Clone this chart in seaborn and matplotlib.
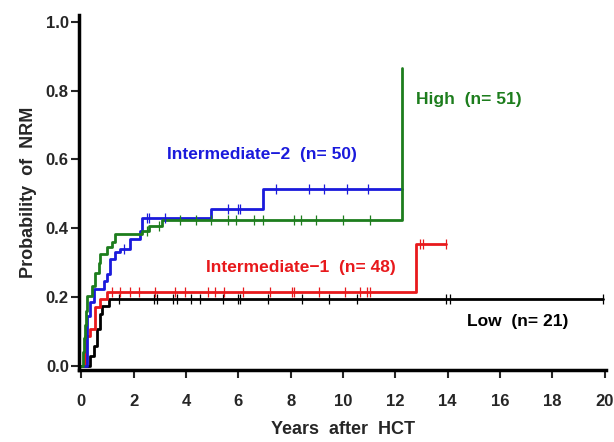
import numpy as np
import pandas as pd
import matplotlib
matplotlib.use("Agg")
import matplotlib.pyplot as plt
import seaborn as sns

# ---- data ----
low_t = [0, 0.35, 0.48, 0.6, 0.73, 0.8, 1.05, 19.95]
low_y = [0, 0.03, 0.059, 0.107, 0.15, 0.175, 0.194, 0.194]
low_cens = [1.43, 2.76, 2.88, 3.5, 3.64, 4.21, 4.53, 5.41, 5.98, 6.08, 7.12,
            8.45, 9.46, 10.53, 13.94, 14.07, 19.95]

int1_t = [0, 0.16, 0.35, 0.54, 0.73, 0.99, 12.8, 13.94]
int1_y = [0, 0.088, 0.107, 0.17, 0.194, 0.215, 0.355, 0.355]
int1_cens = [1.18, 1.49, 1.87, 2.19, 2.82, 3.58, 3.96, 4.84, 5.09, 5.47, 6.17,
             7.22, 8.07, 8.13, 9.08, 10.09, 10.66, 10.91, 11.04, 12.93, 13.06, 13.94]

int2_t = [0, 0.23, 0.35, 0.48, 0.86, 0.99, 1.11, 1.3, 1.49, 1.87, 2.25, 2.31,
          4.94, 6.93, 12.24]
int2_y = [0, 0.146, 0.185, 0.223, 0.247, 0.267, 0.31, 0.33, 0.34, 0.368, 0.392,
          0.43, 0.455, 0.515, 0.515]
int2_cens = [1.62, 2.5, 2.6, 3.2, 5.6, 5.98, 6.07, 7.43, 8.7, 9.27, 10.15, 10.97]

high_t = [0, 0.05, 0.1, 0.13, 0.17, 0.23, 0.42, 0.54, 0.67, 0.73, 0.99, 1.18,
          1.3, 2.31, 2.57, 3.07, 12.24, 12.24]
high_y = [0, 0.04, 0.08, 0.12, 0.16, 0.204, 0.233, 0.27, 0.3, 0.325, 0.345,
          0.36, 0.383, 0.392, 0.408, 0.425, 0.425, 0.866]
high_cens = [2.5, 2.95, 3.77, 4.4, 4.97, 5.6, 5.9, 6.6, 6.93, 8.13, 8.38, 8.95,
             10.0, 11.04]

groups = ["Low", "Intermediate-1", "Intermediate-2", "High"]
colors = {"Low": "#000000", "Intermediate-1": "#e8191c",
          "Intermediate-2": "#1a1adc", "High": "#1d7d1d"}
labels = {"Low": "Low  (n= 21)", "Intermediate-1": "Intermediate\u22121  (n= 48)",
          "Intermediate-2": "Intermediate\u22122  (n= 50)", "High": "High  (n= 51)"}
label_pos = {"Low": (14.75, 0.128), "Intermediate-1": (4.78, 0.287),
             "Intermediate-2": (3.26, 0.614), "High": (12.78, 0.774)}

curves = {"Low": (low_t, low_y, low_cens),
          "Intermediate-1": (int1_t, int1_y, int1_cens),
          "Intermediate-2": (int2_t, int2_y, int2_cens),
          "High": (high_t, high_y, high_cens)}

rows, crows = [], []
for g in groups:
    t, y, c = curves[g]
    for ti, yi in zip(t, y):
        rows.append({"group": g, "time": ti, "p": yi})
    t_arr = np.array(t)
    y_arr = np.array(y)
    for ci in c:
        idx = np.searchsorted(t_arr, ci, side="right") - 1
        crows.append({"group": g, "time": ci, "p": y_arr[idx]})
df = pd.DataFrame(rows)
cdf = pd.DataFrame(crows)

sns.set_style("ticks")
plt.rcParams["font.family"] = ["Liberation Sans", "DejaVu Sans"]
plt.rcParams["font.weight"] = "bold"

fig = plt.figure(figsize=(6.14, 4.42), dpi=100)
ax = fig.add_axes([0.129, 0.163, 0.858, 0.803])

for g in groups:
    sub = df[df.group == g]
    sns.lineplot(data=sub, x="time", y="p", drawstyle="steps-post",
                 color=colors[g], lw=2.0, ax=ax, estimator=None, sort=False)
    csub = cdf[cdf.group == g]
    sns.scatterplot(data=csub, x="time", y="p", marker="|", s=60,
                    color=colors[g], linewidth=0.9, ax=ax, zorder=3)
    x0, y0 = label_pos[g]
    ax.text(x0, y0, labels[g], color=colors[g], fontsize=12.5, fontweight="bold",
            va="center", ha="left")

ax.set_xlim(-0.08, 20.05)
ax.set_ylim(-0.012, 1.02)
ax.set_xticks(np.arange(0, 21, 2))
ax.set_yticks([0.0, 0.2, 0.4, 0.6, 0.8, 1.0])
ax.set_yticklabels(["0.0", "0.2", "0.4", "0.6", "0.8", "1.0"])
ax.tick_params(axis="both", direction="out", length=6, width=1.5, labelsize=12)
ax.tick_params(axis="x", pad=11)
ax.tick_params(axis="y", pad=1.5)
for lab in ax.get_xticklabels() + ax.get_yticklabels():
    lab.set_fontweight("bold")
for s in ["top", "right"]:
    ax.spines[s].set_visible(False)
for s in ["left", "bottom"]:
    ax.spines[s].set_linewidth(2.5)
    ax.spines[s].set_color("black")
ax.set_xlabel("Years  after  HCT", fontsize=13, fontweight="bold", labelpad=9)
ax.set_ylabel("Probability  of  NRM", fontsize=13, fontweight="bold", labelpad=6)
if ax.get_legend() is not None:
    ax.get_legend().remove()

fig.savefig("out.png", dpi=100)
